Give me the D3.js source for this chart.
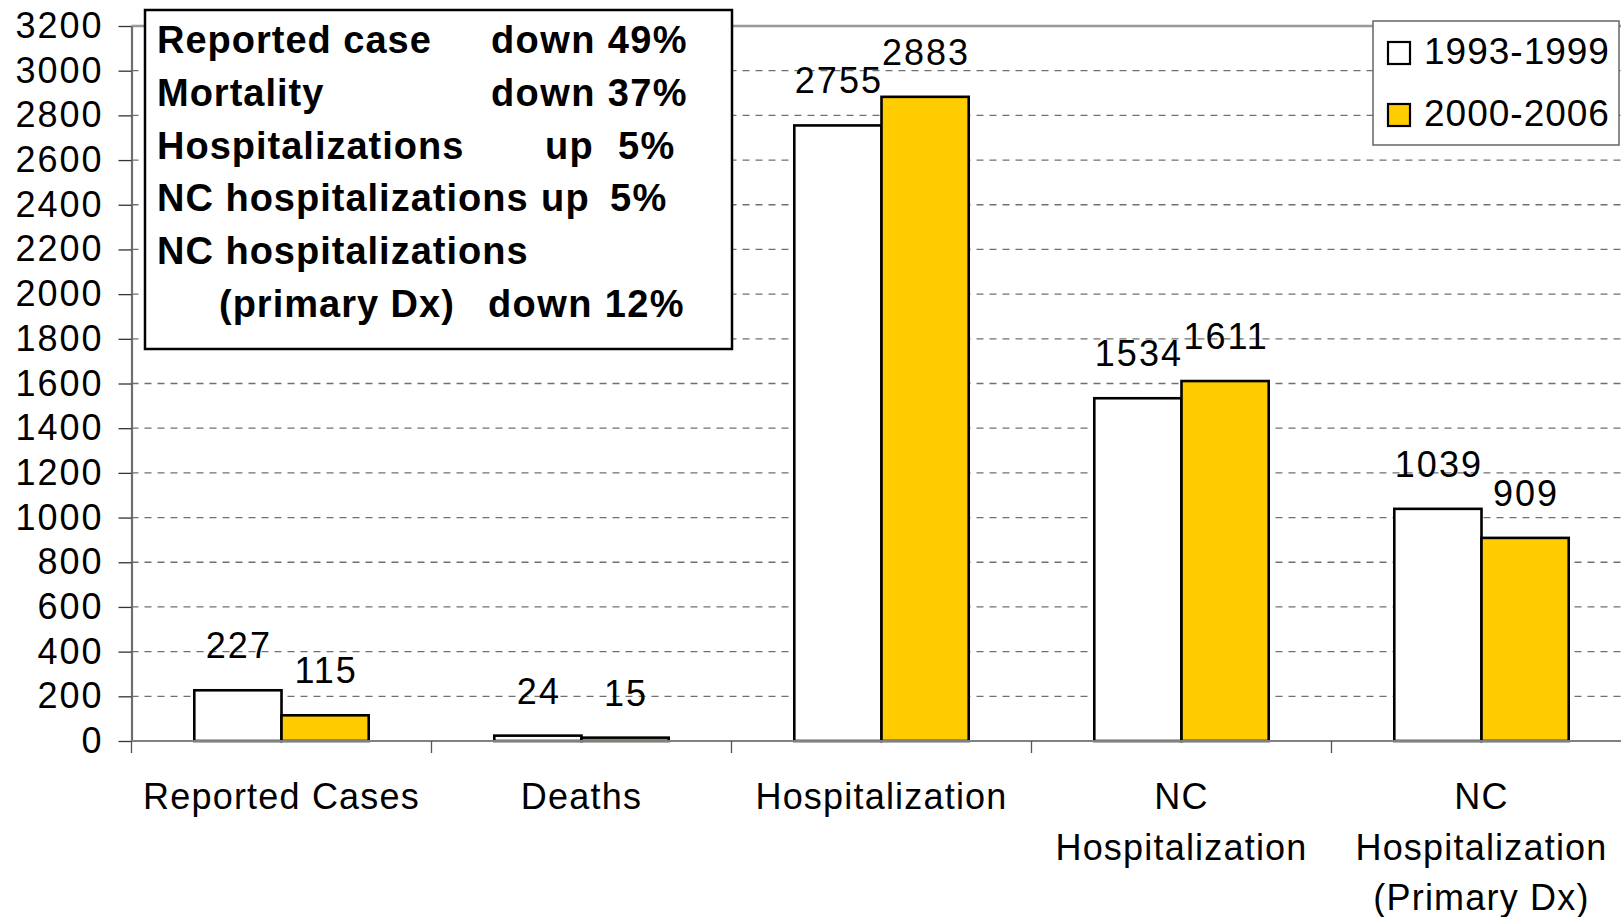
<!DOCTYPE html>
<html>
<head>
<meta charset="utf-8">
<script src="https://cdn.jsdelivr.net/npm/d3@7"></script>
<style>
  body { margin: 0; background: #fff; }
  svg { display: block; font-family: "Liberation Sans", Arial, sans-serif; }
</style>
</head>
<body>
<div id="chart"></div>
<script>
// data
var categories = ["Reported Cases", "Deaths", "Hospitalization", "NC Hospitalization", "NC Hospitalization (Primary Dx)"];
var categoryLines = [["Reported Cases"], ["Deaths"], ["Hospitalization"], ["NC", "Hospitalization"], ["NC", "Hospitalization", "(Primary Dx)"]];
var seriesNames = ["1993-1999", "2000-2006"];
var values1993 = [227, 24, 2755, 1534, 1039];
var values2000 = [115, 15, 2883, 1611, 909];
var yTicks = [0, 200, 400, 600, 800, 1000, 1200, 1400, 1600, 1800, 2000, 2200, 2400, 2600, 2800, 3000, 3200];
var seriesColors = ["#ffffff", "#ffcc00"];

// summary box text: [text, x] pieces per row
var noteRows = [
  [["Reported case", 157], ["down 49%", 491]],
  [["Mortality", 157], ["down 37%", 491]],
  [["Hospitalizations", 157], ["up", 545], ["5%", 618]],
  [["NC hospitalizations", 157], ["up", 541], ["5%", 610]],
  [["NC hospitalizations", 157]],
  [["(primary Dx)", 219], ["down 12%", 488]]
];

var width = 1621, height = 917;
var plot = {left: 131.5, right: 1631.5, top: 26, bottom: 741};

var svg = d3.select("#chart").append("svg")
  .attr("width", width)
  .attr("height", height);

svg.append("rect").attr("width", width).attr("height", height).attr("fill", "#fff");

var x0 = d3.scaleBand()
  .domain(categories)
  .range([plot.left, plot.right])
  .padding(0);

var x1 = d3.scaleBand()
  .domain(seriesNames)
  .range([0, x0.bandwidth()])
  .paddingInner(0)
  .paddingOuter(0.72);

var y = d3.scaleLinear()
  .domain([0, 3200])
  .range([plot.bottom, plot.top]);

// gridlines
svg.append("g").selectAll("line")
  .data(yTicks.filter(function(d) { return d > 0 && d < 3200; }))
  .enter().append("line")
  .attr("x1", plot.left).attr("x2", plot.right)
  .attr("y1", function(d) { return y(d); })
  .attr("y2", function(d) { return y(d); })
  .attr("stroke", "#707070")
  .attr("stroke-width", 1.3)
  .attr("stroke-dasharray", "7,6");

// top border of plot area
svg.append("line")
  .attr("x1", plot.left).attr("x2", plot.right)
  .attr("y1", y(3200)).attr("y2", y(3200))
  .attr("stroke", "#999").attr("stroke-width", 2.5);

// bars
var rows = categories.map(function(c, i) {
  return {cat: c, vals: [values1993[i], values2000[i]]};
});

var groups = svg.append("g").selectAll("g")
  .data(rows)
  .enter().append("g")
  .attr("transform", function(d) { return "translate(" + x0(d.cat) + ",0)"; });

groups.selectAll("rect")
  .data(function(d) { return d.vals.map(function(v, i) { return {name: seriesNames[i], value: v, i: i}; }); })
  .enter().append("rect")
  .attr("x", function(d) { return x1(d.name); })
  .attr("width", x1.bandwidth())
  .attr("y", function(d) { return y(d.value); })
  .attr("height", function(d) { return y(0) - y(d.value); })
  .attr("fill", function(d) { return seriesColors[d.i]; })
  .attr("stroke", "#000")
  .attr("stroke-width", 2.6);

groups.selectAll("text")
  .data(function(d) { return d.vals.map(function(v, i) { return {name: seriesNames[i], value: v}; }); })
  .enter().append("text")
  .attr("x", function(d) { return x1(d.name) + x1.bandwidth() / 2 + 1; })
  .attr("y", function(d) { return y(d.value) - 32; })
  .attr("text-anchor", "middle")
  .style("font-size", "36px")
  .style("letter-spacing", "2px")
  .text(function(d) { return d.value; });

// y axis
var yAxis = svg.append("g")
  .attr("transform", "translate(" + plot.left + ",0)")
  .call(d3.axisLeft(y).tickValues(yTicks).tickFormat(d3.format("d")).tickSize(13).tickPadding(15).tickSizeOuter(0));
yAxis.select(".domain").attr("stroke", "#6e6e6e").attr("stroke-width", 2.2);
yAxis.selectAll(".tick line").attr("stroke", "#333").attr("stroke-width", 1.3);
yAxis.selectAll(".tick text")
  .style("font-size", "36px")
  .style("letter-spacing", "2px")
  .attr("fill", "#000");

// x axis baseline and category separators
svg.append("line")
  .attr("x1", plot.left).attr("x2", plot.right)
  .attr("y1", y(0)).attr("y2", y(0))
  .attr("stroke", "#808080").attr("stroke-width", 2.2);

var bounds = categories.map(function(c) { return x0(c); }).concat([x0(categories[categories.length - 1]) + x0.bandwidth()]);
svg.append("g").selectAll("line")
  .data(bounds)
  .enter().append("line")
  .attr("x1", function(d) { return d; }).attr("x2", function(d) { return d; })
  .attr("y1", y(0)).attr("y2", y(0) + 12)
  .attr("stroke", "#555").attr("stroke-width", 1.3);

// category labels
var catLabels = svg.append("g").selectAll("text")
  .data(categories)
  .enter().append("text")
  .attr("x", function(d) { return x0(d) + x0.bandwidth() / 2; })
  .attr("y", 809)
  .attr("text-anchor", "middle")
  .style("font-size", "36px")
  .style("letter-spacing", "1.2px");

catLabels.selectAll("tspan")
  .data(function(d, i) { return categoryLines[i]; })
  .enter().append("tspan")
  .attr("x", function() { return this.parentNode.getAttribute("x"); })
  .attr("dy", function(d, i) { return i == 0 ? 0 : 50.5; })
  .text(function(d) { return d; });

// legend
var legend = svg.append("g").attr("transform", "translate(1373,21)");
legend.append("rect")
  .attr("width", 246).attr("height", 124)
  .attr("fill", "#fff")
  .attr("stroke", "#666").attr("stroke-width", 1.5);

var legendItem = legend.selectAll(".legend")
  .data(seriesNames)
  .enter().append("g")
  .attr("class", "legend")
  .attr("transform", function(d, i) { return "translate(15," + (21 + i * 62) + ")"; });

legendItem.append("rect")
  .attr("width", 22).attr("height", 22)
  .attr("fill", function(d, i) { return seriesColors[i]; })
  .attr("stroke", "#000").attr("stroke-width", 2.2);

legendItem.append("text")
  .attr("x", 36).attr("y", 22)
  .style("font-size", "37px")
  .style("letter-spacing", "1px")
  .text(function(d) { return d; });

// summary box
svg.append("rect")
  .attr("x", 145).attr("y", 10)
  .attr("width", 587).attr("height", 339)
  .attr("fill", "#fff")
  .attr("stroke", "#000").attr("stroke-width", 2.5);

var note = svg.append("g").selectAll("g")
  .data(noteRows)
  .enter().append("g");

note.selectAll("text")
  .data(function(d, i) { return d.map(function(p) { return {text: p[0], x: p[1], row: i}; }); })
  .enter().append("text")
  .attr("x", function(d) { return d.x; })
  .attr("y", function(d) { return 53 + d.row * 52.8; })
  .style("font-size", "38px")
  .style("font-weight", "bold")
  .style("letter-spacing", function(d) { return d.x < 300 ? "1px" : "1.4px"; })
  .text(function(d) { return d.text; });
</script>
</body>
</html>
